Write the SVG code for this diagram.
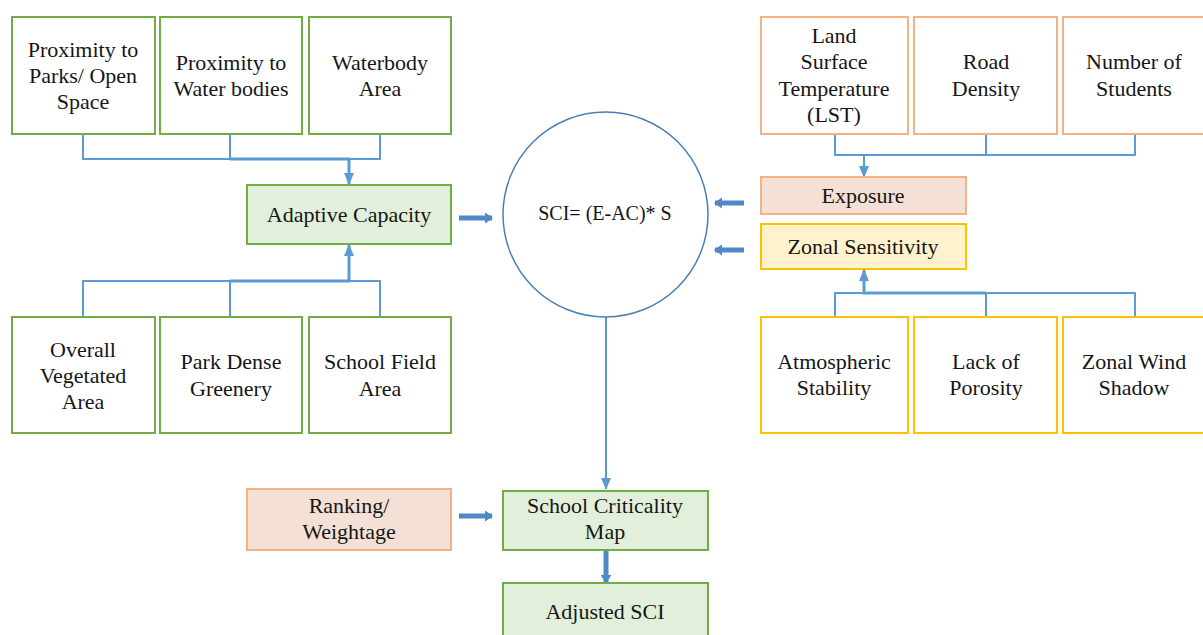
<svg xmlns="http://www.w3.org/2000/svg" width="1203" height="635" viewBox="0 0 1203 635">
  <defs>
    <marker id="head" viewBox="0 0 12 10" refX="11" refY="5" markerWidth="12" markerHeight="10" orient="auto" markerUnits="userSpaceOnUse">
      <path d="M0,0 L12,5 L0,10 z" fill="#5b9bd5"/>
    </marker>
    <marker id="headThick" viewBox="0 0 8 11" refX="7" refY="5.5" markerWidth="8" markerHeight="11" orient="auto" markerUnits="userSpaceOnUse">
      <path d="M0,0 L8,5.5 L0,11 z" fill="#4f88c6"/>
    </marker>
    <style>
      text { font-family: "Liberation Serif", "Times New Roman", serif; font-size: 22px; fill: #161616; text-anchor: middle; }
      .green { fill: #ffffff; stroke: #70ad47; stroke-width: 2; }
      .greenFill { fill: #e2efda; stroke: #70ad47; stroke-width: 2; }
      .orange { fill: #ffffff; stroke: #f4b183; stroke-width: 2; }
      .orangeFill { fill: #f4e0d4; stroke: #f4b183; stroke-width: 2; }
      .yellow { fill: #ffffff; stroke: #ffc000; stroke-width: 2; }
      .yellowFill { fill: #fff2cc; stroke: #ffc000; stroke-width: 2; }
      .thin { fill: none; stroke: #5b9bd5; stroke-width: 2; }
      .trunk { fill: none; stroke: #5b9bd5; stroke-width: 3; }
      .thick { fill: none; stroke: #4f88c6; stroke-width: 5; }
      .formula { font-size: 20px; }
    </style>
  </defs>

  <!-- connectors -->
  <g id="connectors">
    <!-- adaptive capacity inputs (top) -->
    <path class="thin" d="M83,134 V159 H380 V134 M230,134 V159"/>
    <path class="trunk" d="M230,159 H349 V184" marker-end="url(#head)"/>
    <!-- adaptive capacity inputs (bottom) -->
    <path class="thin" d="M83,317 V281 H380 V317 M230,317 V281"/>
    <path class="trunk" d="M230,281 H349 V245" marker-end="url(#head)"/>
    <!-- exposure inputs -->
    <path class="thin" d="M835,134 V155 H1135 V134 M986,134 V155"/>
    <path class="thin" d="M864,155 V177" marker-end="url(#head)"/>
    <!-- sensitivity inputs -->
    <path class="thin" d="M835,317 V293 H1135 V317 M986,317 V293"/>
    <path class="trunk" d="M986,293 H864 V270" marker-end="url(#head)"/>
    <!-- into the index -->
    <path class="thick" d="M459,218 H492" marker-end="url(#headThick)"/>
    <path class="thick" d="M744,203 H715" marker-end="url(#headThick)"/>
    <path class="thick" d="M744,250 H715" marker-end="url(#headThick)"/>
    <!-- index to map -->
    <path class="thin" d="M606,317 V489" marker-end="url(#head)"/>
    <path class="thick" d="M459,516 H492" marker-end="url(#headThick)"/>
    <path class="thick" d="M606,551 V582" marker-end="url(#headThick)"/>
  </g>

  <!-- adaptive capacity factors -->
  <g id="proximity-parks">
    <rect class="green" x="12" y="17" width="143" height="117"/>
    <text x="83" y="57">Proximity to</text>
    <text x="83" y="83">Parks/ Open</text>
    <text x="83" y="109">Space</text>
  </g>
  <g id="proximity-water">
    <rect class="green" x="160" y="17" width="142" height="117"/>
    <text x="231" y="70">Proximity to</text>
    <text x="231" y="96">Water bodies</text>
  </g>
  <g id="waterbody-area">
    <rect class="green" x="309" y="17" width="142" height="117"/>
    <text x="380" y="70">Waterbody</text>
    <text x="380" y="96">Area</text>
  </g>
  <g id="adaptive-capacity">
    <rect class="greenFill" x="247" y="185" width="204" height="59"/>
    <text x="349" y="222">Adaptive Capacity</text>
  </g>
  <g id="vegetated-area">
    <rect class="green" x="12" y="317" width="143" height="116"/>
    <text x="83" y="357">Overall</text>
    <text x="83" y="383">Vegetated</text>
    <text x="83" y="409">Area</text>
  </g>
  <g id="park-greenery">
    <rect class="green" x="160" y="317" width="142" height="116"/>
    <text x="231" y="369">Park Dense</text>
    <text x="231" y="396">Greenery</text>
  </g>
  <g id="school-field">
    <rect class="green" x="309" y="317" width="142" height="116"/>
    <text x="380" y="369">School Field</text>
    <text x="380" y="396">Area</text>
  </g>

  <!-- index -->
  <g id="sci">
    <circle cx="605.5" cy="214.5" r="102.5" fill="#ffffff" stroke="#4a7fb5" stroke-width="1.5"/>
    <text class="formula" x="605" y="220">SCI= (E-AC)* S</text>
  </g>

  <!-- exposure factors -->
  <g id="lst">
    <rect class="orange" x="761" y="17" width="147" height="117"/>
    <text x="834" y="43">Land</text>
    <text x="834" y="69">Surface</text>
    <text x="834" y="96">Temperature</text>
    <text x="834" y="122">(LST)</text>
  </g>
  <g id="road-density">
    <rect class="orange" x="914" y="17" width="143" height="117"/>
    <text x="986" y="69">Road</text>
    <text x="986" y="96">Density</text>
  </g>
  <g id="students">
    <rect class="orange" x="1063" y="17" width="143" height="117"/>
    <text x="1134" y="69">Number of</text>
    <text x="1134" y="96">Students</text>
  </g>
  <g id="exposure">
    <rect class="orangeFill" x="761" y="177" width="205" height="37"/>
    <text x="863" y="203">Exposure</text>
  </g>
  <g id="zonal-sensitivity">
    <rect class="yellowFill" x="761" y="224" width="205" height="45"/>
    <text x="863" y="254">Zonal Sensitivity</text>
  </g>

  <!-- sensitivity factors -->
  <g id="atmospheric-stability">
    <rect class="yellow" x="761" y="317" width="147" height="116"/>
    <text x="834" y="369">Atmospheric</text>
    <text x="834" y="395">Stability</text>
  </g>
  <g id="porosity">
    <rect class="yellow" x="914" y="317" width="143" height="116"/>
    <text x="986" y="369">Lack of</text>
    <text x="986" y="395">Porosity</text>
  </g>
  <g id="wind-shadow">
    <rect class="yellow" x="1063" y="317" width="143" height="116"/>
    <text x="1134" y="369">Zonal Wind</text>
    <text x="1134" y="395">Shadow</text>
  </g>

  <!-- outputs -->
  <g id="ranking">
    <rect class="orangeFill" x="247" y="489" width="204" height="61"/>
    <text x="349" y="513">Ranking/</text>
    <text x="349" y="539">Weightage</text>
  </g>
  <g id="criticality-map">
    <rect class="greenFill" x="503" y="491" width="205" height="59"/>
    <text x="605" y="513">School Criticality</text>
    <text x="605" y="539">Map</text>
  </g>
  <g id="adjusted-sci">
    <rect class="greenFill" x="503" y="583" width="205" height="60"/>
    <text x="605" y="619">Adjusted SCI</text>
  </g>
</svg>
